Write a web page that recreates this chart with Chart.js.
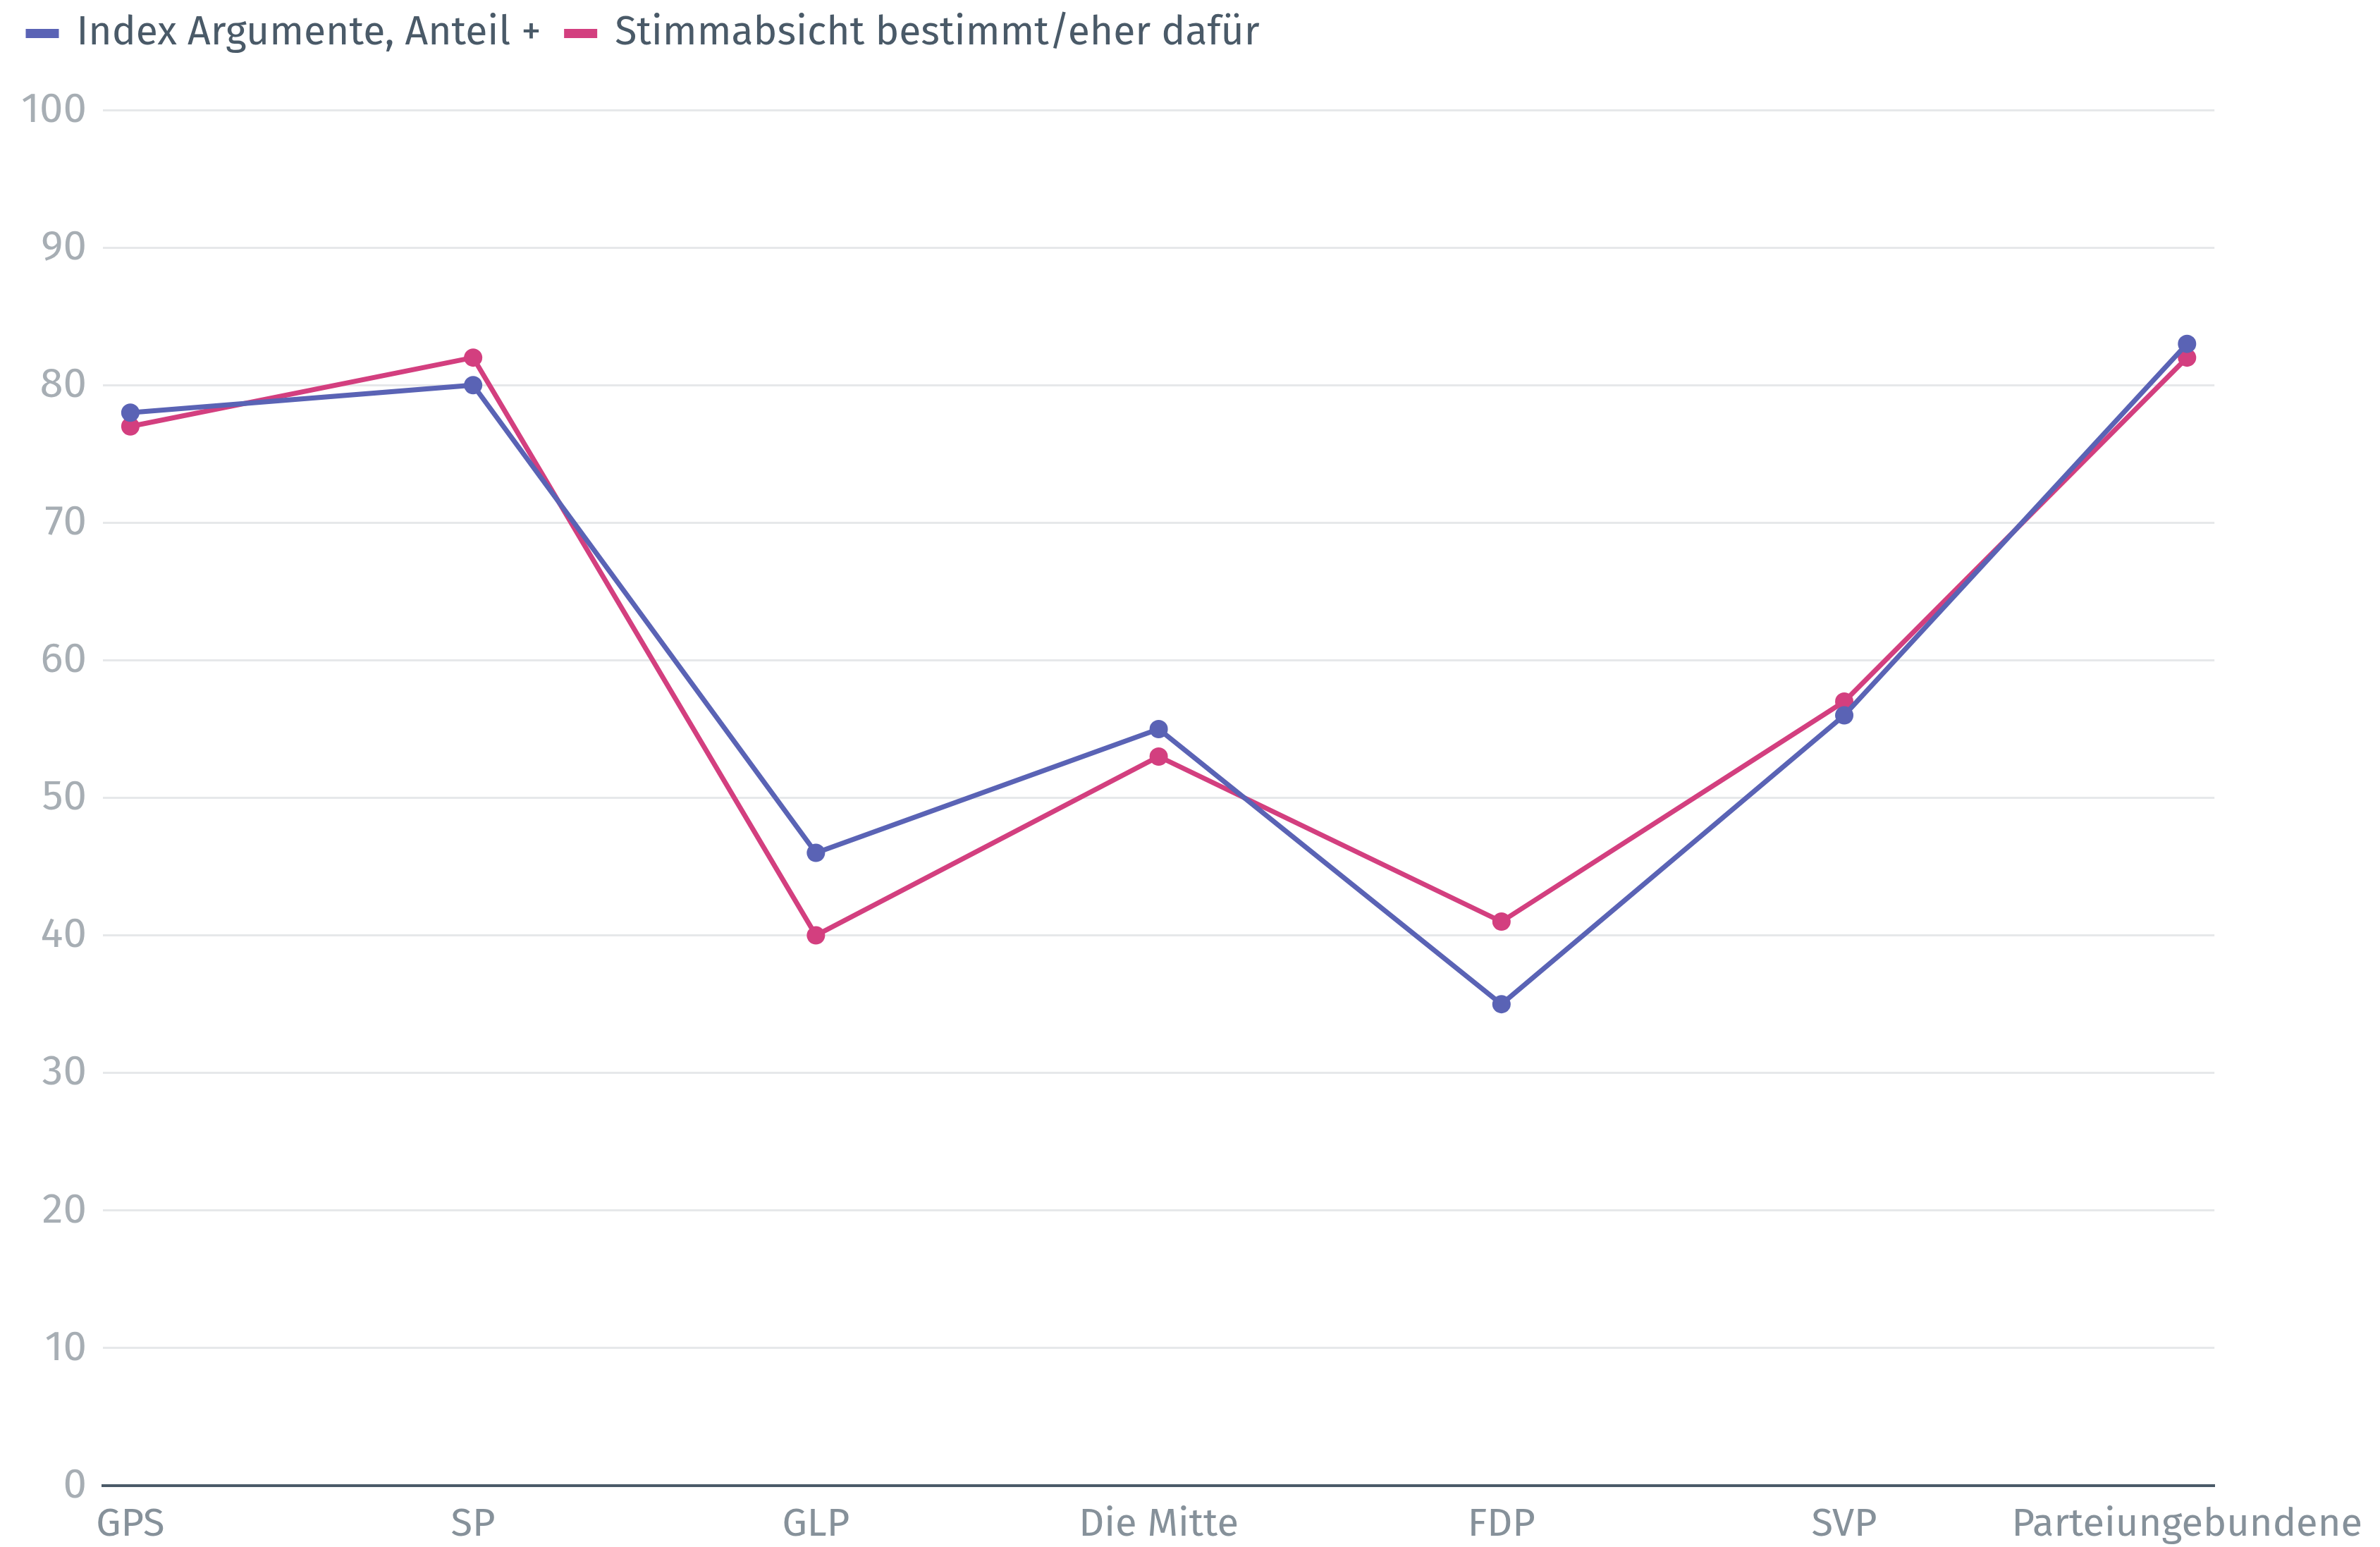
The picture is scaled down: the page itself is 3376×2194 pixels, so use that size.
<!DOCTYPE html>
<html>
<head>
<meta charset="utf-8">
<script src="https://cdn.jsdelivr.net/npm/chart.js@4/dist/chart.umd.min.js"></script>
<style>
  html, body { margin: 0; padding: 0; background: #fff; }
  #wrap { width: 3376px; height: 2194px; position: relative; }
</style>
</head>
<body>
<div id="wrap"><canvas id="lineChart"></canvas></div>
<script>
const parties = ['GPS', 'SP', 'GLP', 'Die Mitte', 'FDP', 'SVP', 'Parteiungebundene'];
const indexArgumente = [78, 80, 46, 55, 35, 56, 83];
const stimmabsicht = [77, 82, 40, 53, 41, 57, 82];
const yTicks = [0, 10, 20, 30, 40, 50, 60, 70, 80, 90, 100];

const FONT = '"Fira Sans", "Noto Sans", sans-serif';

function toPoints(values) {
    return values.map((v, i) => ({ x: i, y: v }));
}

// extra space between legend and plot
const legendMargin = {
    id: 'legendMargin',
    beforeInit(chart) {
        const fit = chart.legend.fit;
        chart.legend.fit = function () {
            fit.bind(chart.legend)();
            this.height += 70;
        };
    }
};

const ctx = document.getElementById('lineChart').getContext('2d');
const lineChart = new Chart(ctx, {
    type: 'line',
    data: {
        datasets: [{
            label: 'Index Argumente, Anteil +',
            data: toPoints(indexArgumente),
            borderColor: '#5a63b5',
            backgroundColor: '#5a63b5',
            borderWidth: 7,
            pointRadius: 13,
            pointBorderWidth: 0,
            tension: 0
        }, {
            label: 'Stimmabsicht bestimmt/eher dafür',
            data: toPoints(stimmabsicht),
            borderColor: '#d33f7f',
            backgroundColor: '#d33f7f',
            borderWidth: 7,
            pointRadius: 13,
            pointBorderWidth: 0,
            tension: 0
        }]
    },
    plugins: [legendMargin],
    options: {
        responsive: true,
        maintainAspectRatio: false,
        animation: false,
        layout: { padding: { left: 4, right: 233, top: -17, bottom: 0 } },
        plugins: {
            tooltip: { enabled: false },
            legend: {
                position: 'top',
                align: 'start',
                labels: {
                    boxWidth: 40,
                    boxHeight: 6,
                    padding: 36,
                    color: '#4a5a68',
                    font: { family: FONT, size: 57 }
                }
            }
        },
        scales: {
            x: {
                type: 'linear',
                min: -0.08,
                max: 6.08,
                afterBuildTicks: axis => {
                    axis.ticks = parties.map((_, i) => ({ value: i }));
                },
                afterFit: axis => { axis.height = 87; },
                grid: { display: false, drawTicks: false },
                border: { display: true, color: '#4a5a68', width: 4 },
                ticks: {
                    autoSkip: false,
                    maxRotation: 0,
                    padding: 22,
                    color: '#86919a',
                    font: { family: FONT, size: 56 },
                    callback: value => parties[value]
                }
            },
            y: {
                min: 0,
                max: 100,
                afterBuildTicks: axis => {
                    axis.ticks = yTicks.map(v => ({ value: v }));
                },
                afterFit: axis => { axis.width = 142; },
                grid: { color: '#e6e8ea', lineWidth: 3, drawTicks: false },
                border: { display: false },
                ticks: {
                    padding: 23,
                    color: '#a7aeb4',
                    font: { family: FONT, size: 60 }
                }
            }
        }
    }
});
</script>
</body>
</html>
